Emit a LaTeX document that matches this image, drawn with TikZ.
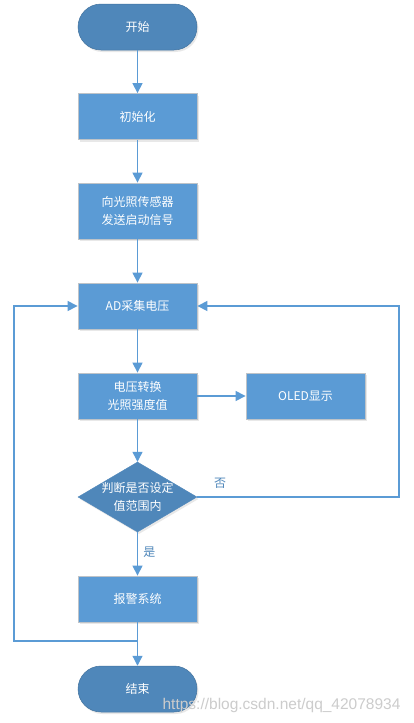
\documentclass[tikz,border=0pt]{standalone}
\usepackage{fontspec}
\setmainfont{Noto Sans CJK SC}
\newfontfamily\wmfont{Liberation Sans}
\usetikzlibrary{shapes.geometric,arrows.meta,shadows}
\definecolor{boxblue}{RGB}{91,155,213}
\definecolor{darkblue}{RGB}{79,135,186}
\definecolor{boxedge}{RGB}{190,195,200}
\definecolor{lineblue}{RGB}{91,155,213}
\begin{document}
\begin{tikzpicture}[x=1pt,y=-1pt,
  shd/.style={drop shadow={opacity=0.18,shadow xshift=1.5pt,shadow yshift=-2pt}},
  procbox/.style={rectangle,fill=boxblue,draw=boxedge,line width=0.8pt,minimum width=119pt,minimum height=46pt,text=white,font=\fontsize{12}{18}\selectfont,align=center,inner sep=0pt,shd},
  term/.style={rectangle,rounded corners=23pt,fill=darkblue,draw=darkblue!85!black,line width=0.5pt,minimum width=119pt,minimum height=46pt,text=white,font=\fontsize{12}{18}\selectfont,inner sep=0pt,shd},
  decision/.style={diamond,fill=darkblue,draw=darkblue,minimum width=119pt,minimum height=70pt,inner sep=0pt,shd},
  flow/.style={draw=lineblue,line width=1.2pt,-{Triangle[width=10pt,length=10pt]}},
  lbl/.style={text=darkblue,font=\fontsize{12}{14}\selectfont}
]
\useasboundingbox (0,0) rectangle (413,723);
\fill[white] (0,0) rectangle (413,723);

\node[term] (start) at (137.5,27) {开始};
\node[procbox] (init) at (137.5,116.5) {初始化};
\node[procbox,minimum height=56pt] (send) at (137.5,211) {向光照传感器\\发送启动信号};
\node[procbox] (ad) at (137.5,306) {AD采集电压};
\node[procbox] (conv) at (137.5,396) {电压转换\\光照强度值};
\node[procbox] (oled) at (305.5,396) {OLED显示};
\node[decision] (dec) at (137.5,497) {};
\node[text=white,font=\fontsize{12}{18}\selectfont,align=center] (dectext) at (dec) {判断是否设定\\值范围内};
\node[procbox] (alarm) at (137.5,599) {报警系统};
\node[term] (end) at (137.5,689) {结束};

\coordinate (j) at (137.5,641);
\coordinate (lc) at (14,641);
\coordinate (rc) at (399,497);

\draw[flow] (start) -- (init);
\draw[flow] (init) -- (send);
\draw[flow] (send) -- (ad);
\draw[flow] (ad) -- (conv);
\draw[flow] (conv) -- (oled);
\draw[flow] (conv) -- (dec);
\draw[flow] (dec) -- node[lbl,right,pos=0.45,xshift=2pt] {是} (alarm);
\draw[flow] (dec.east) -- (rc) |- (ad.east);
\node[lbl] (no) at (220,483) {否};
\draw[flow] (alarm) -- (end);
\draw[flow] (j) -- (lc) |- (ad.west);

\node[text=black!20,font=\wmfont\fontsize{15.5}{16}\selectfont,anchor=east] (wm) at (404,705) {https://blog.csdn.net/qq\_42078934};
\end{tikzpicture}
\end{document}
